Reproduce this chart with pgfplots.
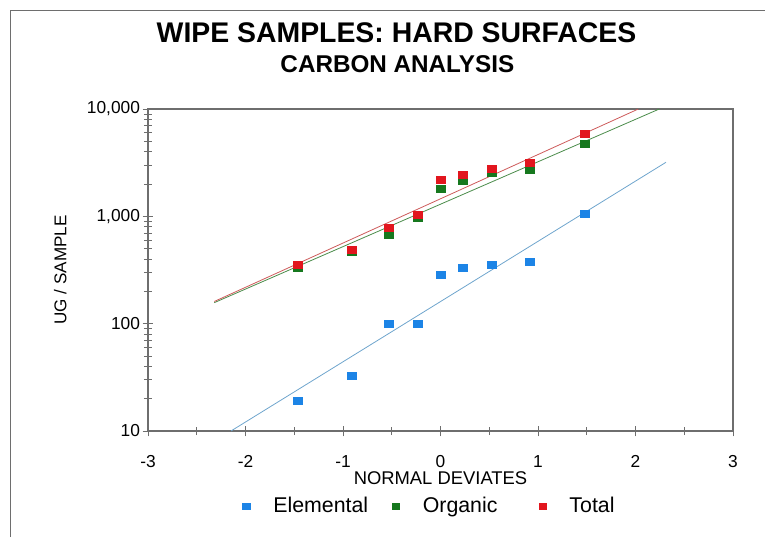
\documentclass[border=0pt]{standalone}
\usepackage{fontspec}
\setmainfont{Liberation Sans}
\usepackage{pgfplots}
\pgfplotsset{compat=1.18}
\definecolor{elem}{RGB}{28,132,230}
\definecolor{orgc}{RGB}{22,120,30}
\definecolor{totc}{RGB}{226,22,30}
\definecolor{elemline}{RGB}{110,165,205}
\definecolor{orgline}{RGB}{75,140,75}
\definecolor{totline}{RGB}{205,90,90}
\definecolor{axgray}{RGB}{110,110,110}
\begin{document}
\begin{tikzpicture}
\useasboundingbox (0,0) rectangle (573.75pt,402.75pt);
\draw[axgray, line width=0.75pt] (7.5pt,0) -- (7.5pt,394.5pt) -- (573.75pt,394.5pt);
\node[font=\fontsize{21.3}{24}\selectfont\bfseries] at (297.4pt,378pt) {WIPE SAMPLES: HARD SURFACES};
\node[font=\fontsize{18.2}{22}\selectfont\bfseries] at (298pt,354.5pt) {CARBON ANALYSIS};
\begin{axis}[
  at={(111pt,79.5pt)}, anchor=south west,
  scale only axis, width=438.75pt, height=241.5pt,
  xmin=-3, xmax=3, ymin=10, ymax=10000,
  ymode=log,
  xtick={-3,-2,-1,0,1,2,3},
  minor x tick num=1,
  ytick={10,100,1000,10000},
  yticklabels={10,100,{1,000},{10,000}},
  xtick pos=bottom, ytick pos=left,
  tick align=center,
  major tick length=8pt, minor tick length=6pt,
  axis line style={axgray, line width=0.9pt},
  every tick/.style={axgray, line width=0.6pt},
  tick label style={font=\fontsize{13}{14}\selectfont, black},
  /pgf/number format/assume math mode=true,
  xticklabel style={yshift=-11pt},
  yticklabel style={xshift=1.5pt},
  xlabel={NORMAL DEVIATES},
  xlabel style={font=\fontsize{13.8}{16}\selectfont, at={(0.5,-0.146)}, anchor=center},
  ylabel={UG / SAMPLE},
  ylabel style={font=\fontsize{12.8}{15}\selectfont, at={(-0.150,0.5)}, anchor=center, rotate=0},
  legend columns=3,
  legend style={draw=none, fill=none, at={(0.482,-0.233)}, anchor=center,
    font=\fontsize{16}{19}\selectfont,
    /tikz/every odd column/.append style={column sep=15.5pt},
    /tikz/every even column/.append style={column sep=16pt}},
  legend image code/.code={\draw[#1, mark size=2.1pt] plot coordinates {(0cm,0cm)};},
]
\addplot[elemline, line width=0.6pt, forget plot] coordinates {(-2.149,10) (2.313,3190)};
\addplot[orgline, line width=0.6pt, forget plot] coordinates {(-2.32,157) (2.244,10000)};
\addplot[totline, line width=0.6pt, forget plot] coordinates {(-2.32,161) (2.029,10000)};
\addplot[only marks, mark=square*, mark size=2.6pt, color=elem, mark options={xscale=1.3, draw=elem, fill=elem}] coordinates {
(-1.465,19) (-0.91,33) (-0.526,99) (-0.234,100) (0,284) (0.231,333) (0.528,355) (0.918,376) (1.479,1052)};
\addlegendentry{Elemental}
\addplot[only marks, mark=square*, mark size=2.6pt, color=orgc, mark options={xscale=1.3, draw=orgc, fill=orgc}] coordinates {
(-1.465,333) (-0.91,463) (-0.526,671) (-0.234,960) (0,1800) (0.231,2152) (0.528,2522) (0.918,2706) (1.479,4730)};
\addlegendentry{Organic\rule{13pt}{0pt}}
\addplot[only marks, mark=square*, mark size=2.6pt, color=totc, mark options={xscale=1.3, draw=totc, fill=totc}] coordinates {
(-1.465,352) (-0.91,486) (-0.526,775) (-0.234,1030) (0,2183) (0.231,2431) (0.528,2750) (0.918,3170) (1.479,5820)};
\addlegendentry{Total}
\end{axis}
\end{tikzpicture}
\end{document}
